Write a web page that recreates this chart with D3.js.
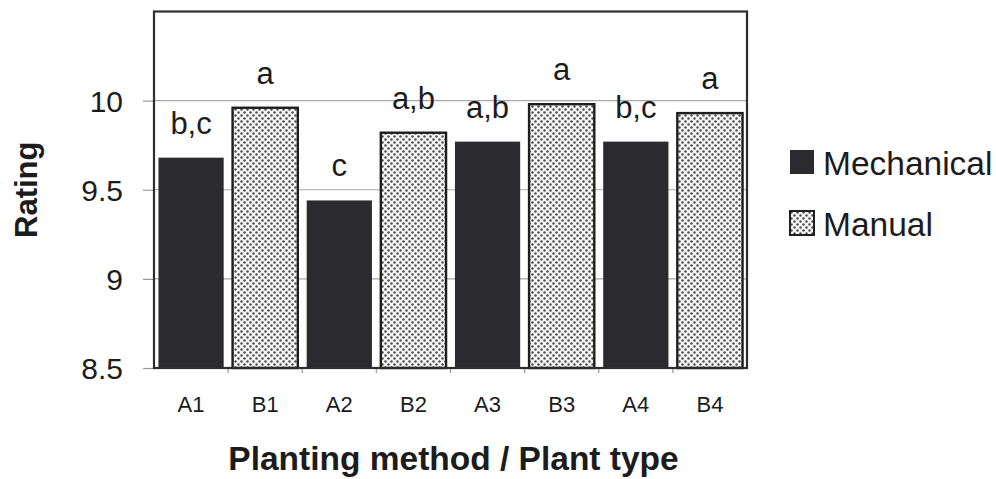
<!DOCTYPE html>
<html lang="en">
<head>
  <meta charset="UTF-8">
  <script src="https://cdnjs.cloudflare.com/ajax/libs/d3/7.8.5/d3.min.js"></script>
  <title>Rating by planting method</title>
  <style>
    body { margin: 0; background: #fff; }
    svg text { font-family: Arial, "Liberation Sans", sans-serif; fill: #1c1c1c; }
  </style>
</head>
<body>
  <script>
    // data
    const categories = ["A1", "B1", "A2", "B2", "A3", "B3", "A4", "B4"];
    const methods = ["Mechanical", "Manual", "Mechanical", "Manual", "Mechanical", "Manual", "Mechanical", "Manual"];
    const ratings = [9.68, 9.96, 9.44, 9.82, 9.77, 9.98, 9.77, 9.93];
    const letters = ["b,c", "a", "c", "a,b", "a,b", "a", "b,c", "a"];
    const yTicks = [8.5, 9, 9.5, 10];
    const seriesNames = ["Mechanical", "Manual"];

    const w = 996;
    const h = 479;
    const plot = { left: 154, right: 747, top: 11.5, bottom: 368 };

    const svg = d3.select("body")
      .append("svg")
      .attr("width", w)
      .attr("height", h);

    // dotted fill for the manual bars
    const defs = svg.append("defs");
    const pat = defs.append("pattern")
      .attr("id", "dots")
      .attr("patternUnits", "userSpaceOnUse")
      .attr("width", 6)
      .attr("height", 6);
    pat.append("rect").attr("width", 6).attr("height", 6).attr("fill", "#f4f4f4");
    pat.append("circle").attr("cx", 1.5).attr("cy", 1.5).attr("r", 1.2).attr("fill", "#4c4c4c");
    pat.append("circle").attr("cx", 4.5).attr("cy", 4.5).attr("r", 1.2).attr("fill", "#4c4c4c");

    const fills = { Mechanical: "#2a2a2f", Manual: "url(#dots)" };

    const x = d3.scaleBand()
      .domain(categories)
      .range([plot.left, plot.right])
      .paddingInner(0.12)
      .paddingOuter(0.06);

    const y = d3.scaleLinear()
      .domain([8.5, 10.5])
      .range([plot.bottom, plot.top]);

    // gridlines
    svg.append("g")
      .selectAll("line")
      .data(yTicks.slice(1))
      .enter()
      .append("line")
      .attr("x1", plot.left)
      .attr("x2", plot.right)
      .attr("y1", d => y(d))
      .attr("y2", d => y(d))
      .attr("stroke", "#a8a8a8")
      .attr("stroke-width", 1.2);

    // y axis
    const yAxis = d3.axisLeft(y)
      .tickValues(yTicks)
      .tickFormat(d3.format("~g"))
      .tickSize(11)
      .tickPadding(20);

    const gy = svg.append("g")
      .attr("transform", "translate(" + plot.left + ",0)")
      .call(yAxis);
    gy.select(".domain").remove();
    gy.selectAll(".tick line").attr("stroke", "#999").attr("stroke-width", 1.2);
    gy.selectAll(".tick text")
      .attr("font-size", 30)
      .attr("dy", "0.36em")
      .attr("fill", "#1c1c1c")
      .style("font-family", "Arial, 'Liberation Sans', sans-serif");

    // x axis: ticks sit between categories
    const bounds = categories.slice(1).map(c => x(c) - x.step() * x.paddingInner() / 2);
    svg.append("g")
      .selectAll("line")
      .data(bounds)
      .enter()
      .append("line")
      .attr("x1", d => d)
      .attr("x2", d => d)
      .attr("y1", plot.bottom)
      .attr("y2", plot.bottom + 5)
      .attr("stroke", "#999")
      .attr("stroke-width", 1.2);

    svg.append("g")
      .selectAll("text")
      .data(categories)
      .enter()
      .append("text")
      .attr("x", d => x(d) + x.bandwidth() / 2)
      .attr("y", 412)
      .attr("text-anchor", "middle")
      .attr("font-size", 22)
      .text(d => d);

    // bars
    svg.append("g")
      .selectAll("rect")
      .data(categories)
      .enter()
      .append("rect")
      .attr("x", d => x(d))
      .attr("y", (d, i) => y(ratings[i]))
      .attr("width", x.bandwidth())
      .attr("height", (d, i) => y(8.5) - y(ratings[i]))
      .attr("fill", (d, i) => fills[methods[i]])
      .attr("stroke", (d, i) => methods[i] === "Manual" ? "#1e1e1e" : "none")
      .attr("stroke-width", 2.4);

    // significance letters
    svg.append("g")
      .selectAll("text")
      .data(categories)
      .enter()
      .append("text")
      .attr("x", d => x(d) + x.bandwidth() / 2)
      .attr("y", (d, i) => y(ratings[i]) - 24)
      .attr("text-anchor", "middle")
      .attr("font-size", 31)
      .text((d, i) => letters[i]);

    // frame
    svg.append("rect")
      .attr("x", plot.left)
      .attr("y", plot.top)
      .attr("width", plot.right - plot.left)
      .attr("height", plot.bottom - plot.top)
      .attr("fill", "none")
      .attr("stroke", "#2e2e2e")
      .attr("stroke-width", 2.2);

    // axis titles
    svg.append("text")
      .attr("x", (plot.left + plot.right) / 2 + 3)
      .attr("y", 470)
      .attr("text-anchor", "middle")
      .attr("font-size", 33.5)
      .attr("font-weight", "bold")
      .text("Planting method / Plant type");

    svg.append("text")
      .attr("transform", "translate(37," + y(9.5) + ") rotate(-90)")
      .attr("text-anchor", "middle")
      .attr("font-size", 31)
      .attr("font-weight", "bold")
      .text("Rating");

    // legend
    const legend = svg.append("g")
      .attr("transform", "translate(790,150)");
    const items = legend.selectAll("g")
      .data(seriesNames)
      .enter()
      .append("g")
      .attr("transform", (d, i) => "translate(0," + i * 61 + ")");
    items.append("rect")
      .attr("width", 24)
      .attr("height", 24)
      .attr("fill", d => fills[d])
      .attr("stroke", d => d === "Manual" ? "#1e1e1e" : "none")
      .attr("stroke-width", 2);
    items.append("text")
      .attr("x", 33)
      .attr("y", 25)
      .attr("font-size", 33.5)
      .text(d => d);
  </script>
</body>
</html>
